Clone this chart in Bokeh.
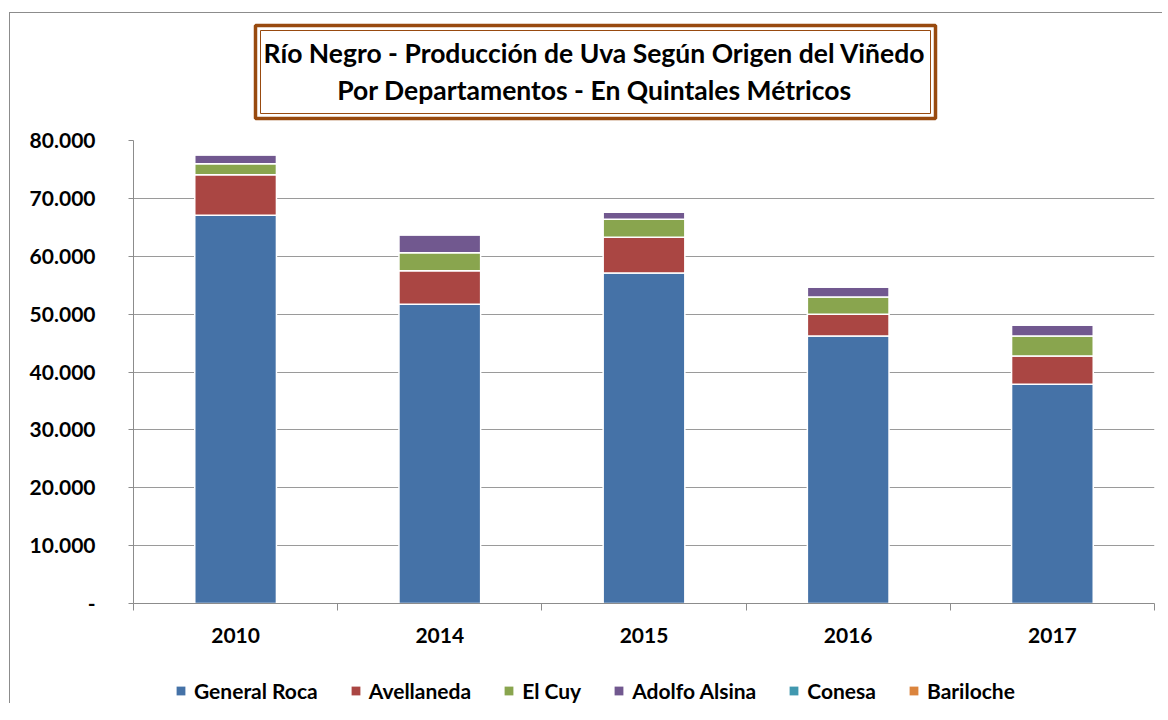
from bokeh.plotting import figure
from bokeh.layouts import column
from bokeh.models import (Range1d, LinearAxis, FixedTicker, Legend, LegendItem, Label,
                          BoxAnnotation, Grid, ColumnDataSource)
from bokeh.embed import file_html
from bokeh.resources import INLINE

# ---------------- data ----------------
years = ["2010", "2014", "2015", "2016", "2017"]
general_roca = [67100, 51700, 57100, 46200, 37900]
avellaneda = [7000, 5800, 6200, 3800, 4850]
el_cuy = [1900, 3100, 3100, 2950, 3450]
adolfo_alsina = [1550, 3100, 1200, 1750, 1900]
conesa = [0, 0, 0, 0, 0]
bariloche = [0, 0, 0, 0, 0]
series_names = ["General Roca", "Avellaneda", "El Cuy", "Adolfo Alsina", "Conesa", "Bariloche"]
y_ticks = [0, 10000, 20000, 30000, 40000, 50000, 60000, 70000, 80000]
y_tick_labels = ["-", "10.000", "20.000", "30.000", "40.000", "50.000", "60.000", "70.000", "80.000"]
title_lines = ["Río Negro - Producción de Uva Según Origen del Viñedo",
               "Por Departamentos - En Quintales Métricos"]

# ---------------- style ----------------
colors = ["#4572A7", "#AA4643", "#89A54E", "#71588F", "#4198AF", "#DB843D"]
FONT = "Lato"
BROWN = "#984A0F"
W = 1152
HT = 115            # title strip height
ML, MR, MT, MB = 123, 8, 12, 60
FRAME_H = 463
HM = MT + FRAME_H + MB
HL = 40             # legend strip height
Y_MAX = 80000
N = len(years)
OX, OY = 10, 13     # page offset of the canvas
FX0, FX1 = OX + ML, OX + W - MR   # page x extent of the (shared, aligned) frames


def strip_fig(h):
    f = figure(width=W, height=h, x_range=Range1d(FX0, FX1), y_range=Range1d(h, 0),
               output_backend="svg", toolbar_location=None,
               x_axis_location=None, y_axis_location=None,
               min_border_left=ML, min_border_right=MR,
               min_border_top=0, min_border_bottom=0,
               outline_line_color=None, background_fill_color="white",
               border_fill_color="white")
    f.grid.visible = False
    return f


# ---------------- title strip ----------------
pt = strip_fig(HT)
pt.add_layout(BoxAnnotation(left=255, right=935, top=25 - OY, bottom=118 - OY,
                            fill_color="white", fill_alpha=1, line_color=BROWN,
                            line_alpha=1, line_width=3.5))
pt.add_layout(BoxAnnotation(left=260, right=930, top=30 - OY, bottom=113 - OY,
                            fill_alpha=0, line_color=BROWN, line_alpha=1, line_width=1))
for txt, py in zip(title_lines, [52, 89]):
    pt.add_layout(Label(x=594, y=py - OY, text=txt, text_align="center",
                        text_baseline="middle", text_font=FONT, text_font_style="bold",
                        text_font_size="26.5px", text_color="black"))

# ---------------- main chart ----------------
x_centers = [i + 0.5 for i in range(N)]
source = ColumnDataSource(dict(x=x_centers, year=years, **{
    "General Roca": general_roca, "Avellaneda": avellaneda, "El Cuy": el_cuy,
    "Adolfo Alsina": adolfo_alsina, "Conesa": conesa, "Bariloche": bariloche}))

p = figure(x_range=Range1d(0, N), y_range=Range1d(0, Y_MAX),
           width=W, height=HM, output_backend="svg", toolbar_location=None,
           x_axis_location=None, y_axis_location=None,
           min_border_left=ML, min_border_right=MR, min_border_top=MT, min_border_bottom=MB,
           outline_line_color=None, background_fill_color="white", border_fill_color="white")
p.grid.visible = False

yaxis = LinearAxis(ticker=FixedTicker(ticks=y_ticks),
                   major_label_overrides={t: l for t, l in zip(y_ticks, y_tick_labels)},
                   axis_line_color="#8c8c8c", major_tick_line_color="#8c8c8c",
                   major_tick_out=5, major_tick_in=0, minor_tick_line_color=None,
                   major_label_standoff=33,
                   major_label_text_font=FONT, major_label_text_font_style="bold",
                   major_label_text_font_size="21px", major_label_text_color="black")
p.add_layout(yaxis, "left")
p.add_layout(Grid(dimension=1, ticker=yaxis.ticker, grid_line_color="#9a9a9a", grid_line_width=1))

edge_ticks = list(range(N + 1))
eaxis = LinearAxis(ticker=FixedTicker(ticks=edge_ticks),
                   major_label_overrides={t: "" for t in edge_ticks},
                   major_label_text_font_size="0px", major_label_standoff=0,
                   axis_line_color="#8c8c8c", major_tick_line_color="#8c8c8c",
                   major_tick_out=7, major_tick_in=0, minor_tick_line_color=None)
p.add_layout(eaxis, "below")
caxis = LinearAxis(ticker=FixedTicker(ticks=x_centers),
                   major_label_overrides={c: y for c, y in zip(x_centers, years)},
                   axis_line_color=None, major_tick_line_color=None,
                   minor_tick_line_color=None, major_label_standoff=11,
                   major_label_text_font=FONT, major_label_text_font_style="bold",
                   major_label_text_font_size="21px", major_label_text_color="black")
p.add_layout(caxis, "below")

p.vbar_stack(series_names, x="x", width=0.4, color=colors, source=source,
             line_color="white", line_width=1.5)

# ---------------- legend strip ----------------
pl = strip_fig(HL)
leg_items = []
for name, c in zip(series_names, colors):
    r = pl.vbar(x="x", top=name, width=0.4, source=source, color=c, line_color=None,
                visible=False)
    leg_items.append(LegendItem(label=name, renderers=[r]))
legend = Legend(items=leg_items, orientation="horizontal", location=(175 - FX0, 0),
                border_line_color=None, background_fill_alpha=0, padding=0, margin=0,
                spacing=32, glyph_width=11, glyph_height=11, label_standoff=8,
                label_text_font=FONT, label_text_font_style="bold",
                label_text_font_size="21px", label_text_color="black")
pl.add_layout(legend)

layout = column(pt, p, pl, spacing=0,
                styles={"margin-left": "9px", "margin-top": "12px",
                        "border-left": "1px solid #8c8c8c", "border-top": "1px solid #8c8c8c"})

open("out.html", "w").write(file_html(layout, INLINE))
